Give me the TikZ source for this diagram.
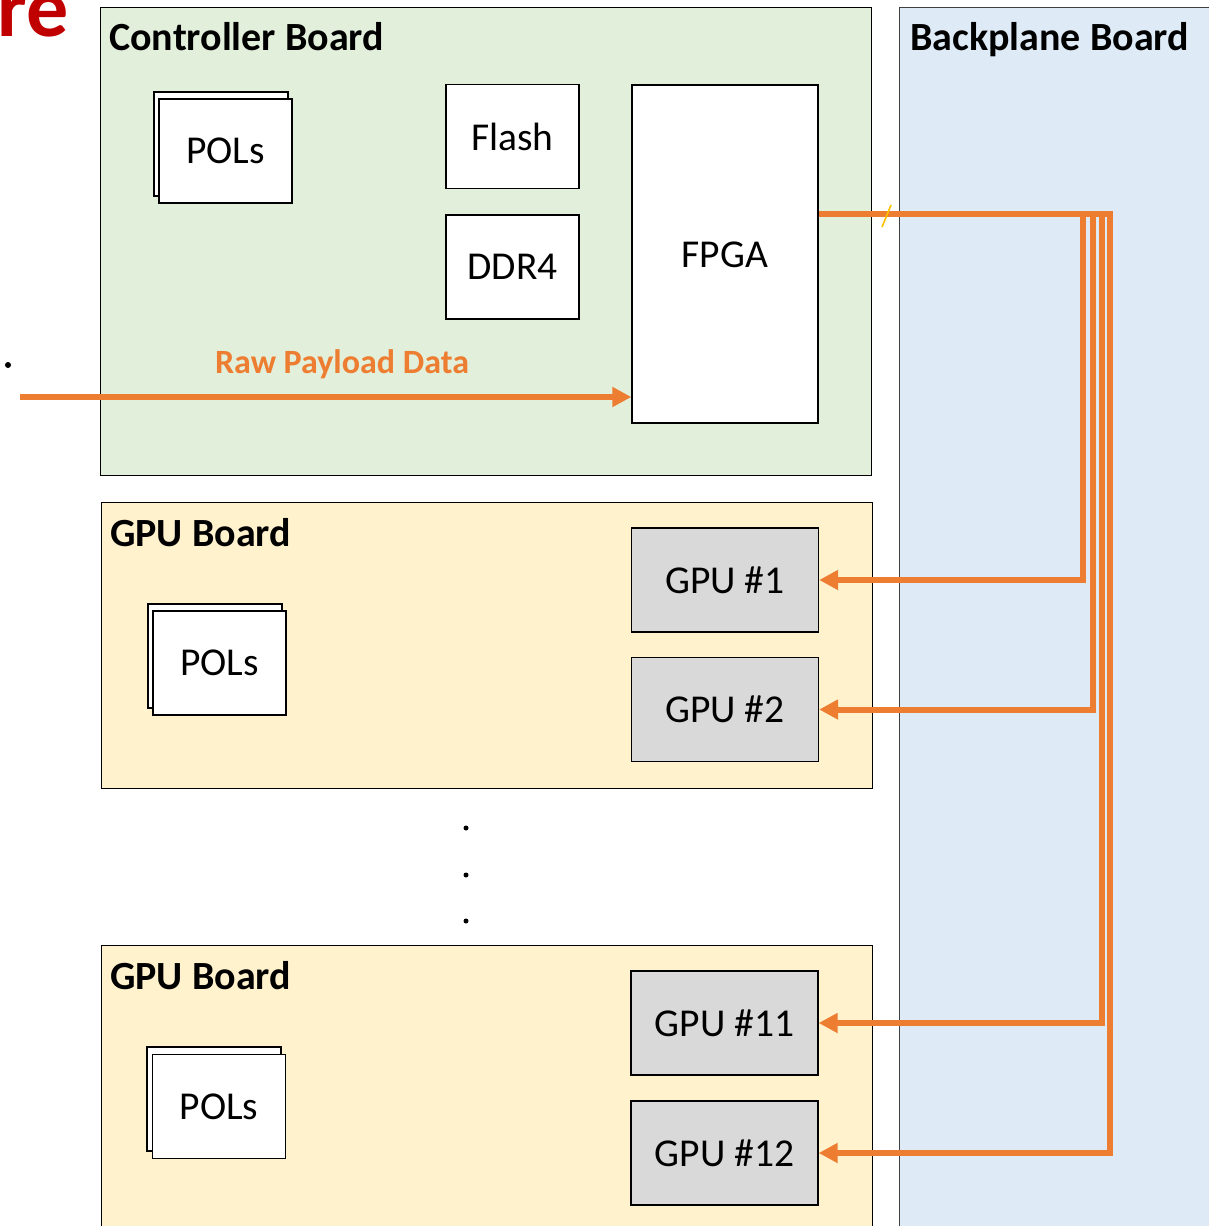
\documentclass[tikz,border=0pt]{standalone}
\usepackage{fontspec}
\setmainfont{Carlito}
\usetikzlibrary{arrows.meta}
\definecolor{ctrlgreen}{HTML}{E2EFDA}
\definecolor{backblue}{HTML}{DEEBF7}
\definecolor{gpuyellow}{HTML}{FFF2CC}
\definecolor{gpugray}{HTML}{D9D9D9}
\definecolor{busorange}{HTML}{ED7D31}
\definecolor{titlered}{HTML}{C00000}
\definecolor{slashgold}{HTML}{FFC000}
\begin{document}
\begin{tikzpicture}[x=1pt,y=-1pt,
  board/.style={draw=black, line width=1.3pt, inner sep=0pt},
  boardlabel/.style={anchor=base west, inner sep=0pt, font=\bfseries\fontsize{40}{42}\selectfont},
  chip/.style={draw=black, fill=white, line width=1.3pt, inner sep=0pt,
    minimum width=133pt, minimum height=104pt, font=\fontsize{39.5}{42}\selectfont},
  gpu/.style={chip, fill=gpugray, minimum width=187pt},
  polback/.style={draw=black, fill=white, line width=1.3pt, inner sep=0pt,
    minimum width=134pt, minimum height=104pt},
  bus/.style={draw=busorange, line width=6pt, line join=miter},
  feed/.style={bus, -{Triangle[length=19pt,width=19pt]}},
  vdot/.style={circle, fill=black, inner sep=0pt, minimum size=5pt}]
\useasboundingbox (0,0) rectangle (1209,1226);

% boards
\node[board, fill=backblue, draw=black!75, anchor=north west,
  minimum width=330pt, minimum height=1240pt] (backplane) at (899,7) {};
\node[board, fill=ctrlgreen, anchor=north west,
  minimum width=771pt, minimum height=468pt] (ctrl) at (100,7) {};
\node[board, fill=gpuyellow, anchor=north west,
  minimum width=771pt, minimum height=286pt] (gpuA) at (101,502) {};
\node[board, fill=gpuyellow, anchor=north west,
  minimum width=771pt, minimum height=300pt] (gpuB) at (101,945) {};

\node[boardlabel] (ctrllbl) at (109,50) {Controller Board};
\node[boardlabel] (backlbl) at (910,50) {Backplane Board};
\node[boardlabel] (gpuAlbl) at (110,546) {GPU Board};
\node[boardlabel] (gpuBlbl) at (110,989) {GPU Board};

% title fragment
\node[anchor=base east, inner sep=0pt, text=titlered,
  font=\bfseries\fontsize{84}{84}\selectfont] (titletail) at (69,36) {re};

% controller board parts
\node[polback] (polAback) at (221,144) {};
\node[chip] (polA) at (225.5,151) {POLs};
\node[chip] (flash) at (512.5,136.5) {Flash};
\node[chip] (ddr) at (512.5,267) {DDR4};
\node[chip, minimum width=186pt, minimum height=338pt] (fpga) at (725,254) {};
\node[font=\fontsize{39.5}{42}\selectfont] (fpgalbl) at (725,255) {FPGA};

% GPU board parts
\node[polback] (polBback) at (215,656) {};
\node[chip] (polB) at (219.5,663) {POLs};
\node[gpu] (gpu1) at (725,580) {GPU \#1};
\node[gpu] (gpu2) at (725,709.5) {GPU \#2};

\node[polback] (polCback) at (214,1099) {};
\node[chip] (polC) at (219,1106.5) {POLs};
\node[gpu] (gpu11) at (724.5,1023) {GPU \#11};
\node[gpu] (gpu12) at (724.5,1153) {GPU \#12};

% raw data input
\node[vdot, minimum size=6pt] (stray) at (8,365) {};
\coordinate (rawsrc) at (20,397);
\draw[feed] (rawsrc) -- (rawsrc -| fpga.west);
\node[anchor=base, text=busorange, font=\bfseries\fontsize{34}{36}\selectfont]
  (rawlbl) at (342,373) {Raw Payload Data};

% FPGA to GPU links through the backplane
\coordinate (tap) at ([yshift=40pt]fpga.east);
\coordinate (dropA) at (1083,0);
\coordinate (dropB) at (1093,0);
\coordinate (dropC) at (1102,0);
\coordinate (dropD) at (1110,0);
\draw[feed] (tap) -| (dropA |- gpu1.east) -- (gpu1.east);
\draw[feed] (tap) -| (dropB |- gpu2.east) -- (gpu2.east);
\draw[feed] (tap) -| (dropC |- gpu11.east) -- (gpu11.east);
\draw[feed] (tap) -| (dropD |- gpu12.east) -- (gpu12.east);
\draw[slashgold, line width=1.6pt] (882,227) -- (891,205);

% more boards in between
\node[vdot] (dot1) at (466,828) {};
\node[vdot] (dot2) at (466,875) {};
\node[vdot] (dot3) at (466,921) {};
\end{tikzpicture}
\end{document}
